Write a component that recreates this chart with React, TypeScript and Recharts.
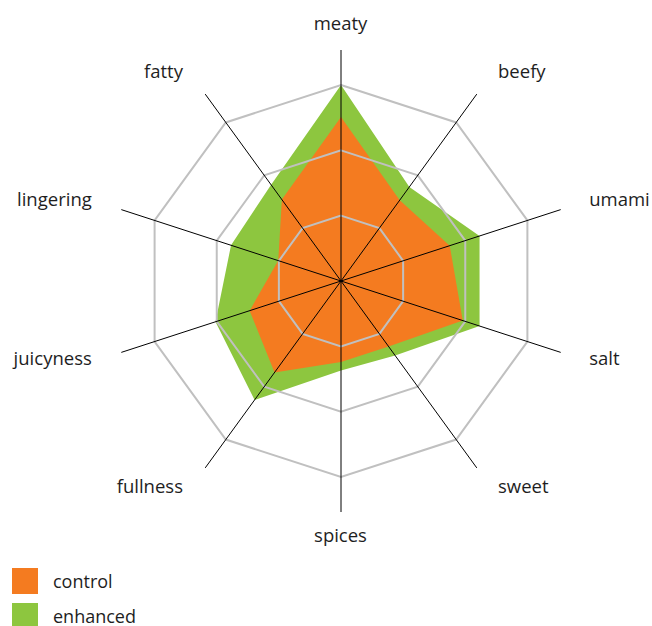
import * as React from "react"
import { RadarChart, Radar, PolarGrid, PolarAngleAxis, PolarRadiusAxis, Legend } from "recharts"

const attributes = ["meaty", "beefy", "umami", "salt", "sweet", "spices", "fullness", "juicyness", "lingering", "fatty"]
const control = [2.51, 1.53, 1.75, 1.96, 1.24, 1.24, 1.73, 1.47, 1.01, 1.54]
const enhanced = [3.0, 1.78, 2.23, 2.23, 1.41, 1.37, 2.25, 2.02, 1.77, 1.82]
const ringTicks = [1, 2, 3]

const series = [
  { key: "control", name: "control", color: "#f47b20" },
  { key: "enhanced", name: "enhanced", color: "#8dc63f" },
]

const data = attributes.map((a, i) => ({ attr: a, control: control[i], enhanced: enhanced[i] }))

const W = 652
const H = 626
const CX = 341
const CY = 281
const FONT = "'Open Sans', sans-serif"

function AngleTick(props: any) {
  const angle = (props.payload.coordinate * Math.PI) / 180
  const c = Math.cos(angle)
  const s = Math.sin(angle)
  const side = Math.abs(c) < 0.1 ? 0 : Math.sign(c)
  const x = CX - 0.5 + side * (251 * Math.abs(c) + 10)
  const y = CY - (256 * s + 3)
  const anchor = side === 0 ? "middle" : side > 0 ? "start" : "end"
  return (
    <text x={x} y={y} textAnchor={anchor} dominantBaseline="central" fill="#1e1e1e" fontSize={18.5} fontFamily={FONT}>
      {props.payload.value}
    </text>
  )
}

function LegendBox() {
  return (
    <div>
      {series.map((s) => (
        <div key={s.key} style={{ display: "flex", alignItems: "center", height: 35 }}>
          <div style={{ width: 26, height: 26, background: s.color, marginRight: 15 }} />
          <span style={{ fontFamily: FONT, fontSize: 18, lineHeight: 1, color: "#1e1e1e" }}>{s.name}</span>
        </div>
      ))}
    </div>
  )
}

export default function App() {
  return (
    <div style={{ position: "absolute", left: 0, top: 0, background: "#fff" }}>
      <RadarChart
        width={W}
        height={H}
        data={data}
        cx={CX}
        cy={CY}
        outerRadius={231}
        margin={{ top: 0, right: 0, bottom: 0, left: 0 }}
      >
        <PolarRadiusAxis
          type="number"
          domain={[0, 3.536]}
          allowDataOverflow
          tickCount={0}
          ticks={ringTicks}
          tick={false}
          axisLine={false}
        />
        <PolarAngleAxis dataKey="attr" tick={<AngleTick />} tickLine={false} axisLine={false} />
        <Radar dataKey="enhanced" name="enhanced" fill="#8dc63f" fillOpacity={1} stroke="none" isAnimationActive={false} />
        <Radar dataKey="control" name="control" fill="#f47b20" fillOpacity={1} stroke="none" isAnimationActive={false} />
        <PolarGrid gridType="polygon" radialLines={false} stroke="#c0c0c0" strokeWidth={2} zIndex={500} />
        <PolarGrid gridType="polygon" polarRadius={[]} stroke="#000" strokeWidth={1} zIndex={600} />
        <Legend
          verticalAlign="bottom"
          content={<LegendBox />}
          wrapperStyle={{ left: 12, top: 563, bottom: "auto", width: "auto" }}
        />
      </RadarChart>
    </div>
  )
}
